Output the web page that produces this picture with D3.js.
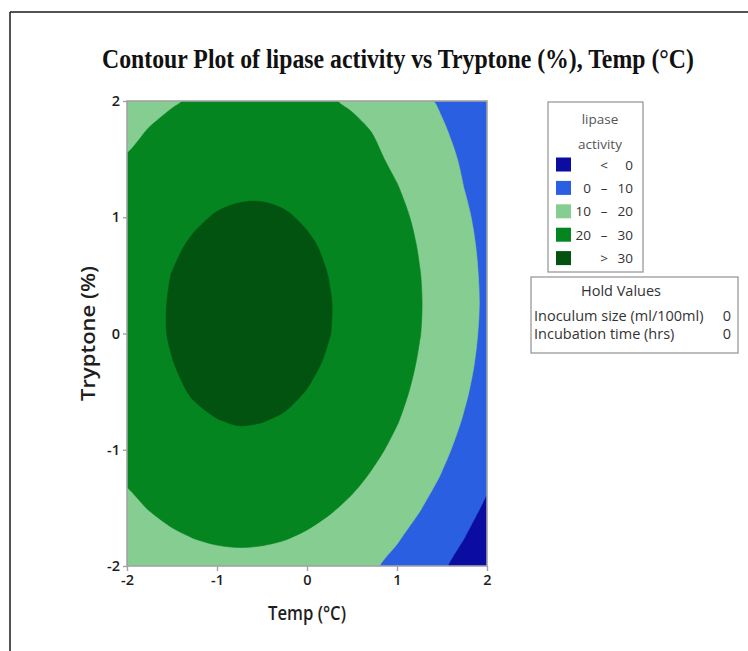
<!DOCTYPE html>
<html>
<head>
<meta charset="utf-8">
<script src="https://cdn.jsdelivr.net/npm/d3@7"></script>
<style>
  html, body { margin: 0; padding: 0; background: #ffffff; }
  svg { display: block; }
</style>
</head>
<body>
<svg id="chart" width="748" height="651"></svg>
<script>
// ---------------- data ----------------
const tempValues = [-2, -1.75, -1.5, -1.25, -1, -0.75, -0.5, -0.25, 0, 0.25, 0.5, 0.75, 1, 1.25, 1.5, 1.75, 2];
const tryptoneValues = [-2, -1.75, -1.5, -1.25, -1, -0.75, -0.5, -0.25, 0, 0.25, 0.5, 0.75, 1, 1.25, 1.5, 1.75, 2];
// lipase activity; one row per Tryptone level (from -2 up to 2), one column per Temp level
const lipaseActivity = [
  [12.4, 14.3, 15.9, 17.0, 17.7, 17.9, 17.7, 17.0, 16.0, 14.4, 12.5, 10.6, 7.9, 4.6, 1.0, -3.0, -7.4],
  [15.5, 17.5, 19.1, 20.2, 20.9, 21.2, 21.0, 20.4, 19.3, 17.8, 15.8, 13.5, 10.7, 7.6, 3.9, 0.1, -4.4],
  [18.3, 20.3, 21.9, 23.1, 23.8, 24.0, 23.9, 23.3, 22.2, 20.7, 18.8, 16.5, 13.7, 10.4, 6.8, 3.0, -1.3],
  [20.7, 22.7, 24.3, 25.5, 26.2, 26.5, 26.4, 25.8, 24.7, 23.3, 21.4, 19.0, 16.3, 13.1, 9.4, 5.4, 1.5],
  [22.7, 24.7, 26.4, 27.5, 28.3, 28.6, 28.5, 27.9, 26.9, 25.4, 23.5, 21.2, 18.5, 15.3, 11.6, 7.6, 3.1],
  [24.3, 26.3, 28.0, 29.2, 29.9, 30.3, 30.1, 29.6, 28.6, 27.2, 25.3, 23.0, 20.3, 17.1, 13.5, 9.4, 4.9],
  [25.4, 27.5, 29.2, 30.4, 31.2, 31.5, 31.4, 30.9, 29.9, 28.5, 26.7, 24.4, 21.7, 18.5, 14.9, 10.9, 6.4],
  [26.2, 28.3, 29.9, 31.2, 32.0, 32.4, 32.3, 31.8, 30.9, 29.5, 27.6, 25.4, 22.7, 19.5, 16.0, 12.0, 7.5],
  [26.6, 28.7, 30.4, 31.7, 32.5, 32.9, 32.8, 32.3, 31.4, 30.1, 28.2, 26.0, 23.3, 20.2, 16.6, 12.6, 8.2],
  [26.6, 28.7, 30.4, 31.7, 32.5, 32.9, 32.9, 32.4, 31.5, 30.2, 28.4, 26.2, 23.5, 20.4, 16.9, 12.9, 8.5],
  [26.2, 28.3, 30.1, 31.3, 32.2, 32.6, 32.6, 32.1, 31.2, 29.9, 28.1, 25.9, 23.3, 20.2, 16.7, 12.7, 8.3],
  [25.3, 27.5, 29.3, 30.6, 31.5, 31.9, 31.9, 31.5, 30.6, 29.3, 27.5, 25.3, 22.7, 19.6, 16.1, 12.2, 7.8],
  [24.1, 26.3, 28.1, 29.4, 30.3, 30.8, 30.8, 30.4, 29.5, 28.2, 26.5, 24.3, 21.7, 18.7, 15.2, 11.3, 6.9],
  [22.5, 24.7, 26.5, 27.8, 28.8, 29.2, 29.3, 28.9, 28.0, 26.8, 25.0, 22.9, 20.3, 17.3, 13.8, 9.9, 5.6],
  [20.5, 22.7, 24.5, 25.9, 26.8, 27.3, 27.4, 27.0, 26.2, 24.9, 23.2, 21.1, 18.6, 15.9, 12.6, 8.8, 4.6],
  [18.0, 20.3, 22.1, 23.5, 24.5, 25.0, 25.1, 24.7, 23.9, 23.0, 21.5, 19.6, 17.1, 14.2, 10.9, 7.1, 2.9],
  [15.2, 17.5, 19.3, 20.8, 21.7, 22.3, 22.3, 22.0, 21.2, 20.5, 19.1, 17.2, 14.9, 12.1, 8.8, 5.2, 1.2]
];
const contourLevels = [0, 10, 20, 30];
const legendLow  = ["", "0", "10", "20", ""];
const legendSym  = ["<", "\u2013", "\u2013", "\u2013", ">"];
const legendHigh = ["0", "10", "20", "30", "30"];
const bandColors = ["#0b0ca2", "#2a5fe2", "#86cd91", "#04851f", "#02530f"];
const xTicks = [-2, -1, 0, 1, 2];
const yTicks = [-2, -1, 0, 1, 2];
const holdFactors = ["Inoculum size (ml/100ml)", "Incubation time (hrs)"];
const holdSettings = [0, 0];
const titleText = "Contour Plot of lipase activity vs Tryptone (%), Temp (\u00B0C)";
const xLabel = "Temp (\u00B0C)";
const yLabel = "Tryptone (%)";

// ---------------- layout ----------------
const svg = d3.select("#chart");
const plot = { left: 127, right: 487, top: 101, bottom: 566 };
const sansFont = "'Open Sans', 'DejaVu Sans', sans-serif";

const xScale = d3.scaleLinear().domain(d3.extent(tempValues)).range([plot.left, plot.right]);
const yScale = d3.scaleLinear().domain(d3.extent(tryptoneValues)).range([plot.bottom, plot.top]);

const nx = tempValues.length, ny = tryptoneValues.length;
// d3.contours grid coordinates: sample i sits at i + 0.5
const gridToTemp = d3.scaleLinear().domain([0.5, nx - 0.5]).range(d3.extent(tempValues));
const gridToTryp = d3.scaleLinear().domain([0.5, ny - 0.5]).range(d3.extent(tryptoneValues));

// fit a text horizontally to a target width (keeps glyph height)
function fitText(sel, tx, ty, width, rotate) {
  const w = sel.node().getComputedTextLength();
  const s = width / w;
  sel.attr("x", 0).attr("y", 0)
    .attr("transform", `translate(${tx},${ty})` + (rotate ? ` rotate(${rotate})` : "") + ` scale(${s},1)`);
}

// outer screenshot frame (top and left edges)
svg.append("line").attr("x1", 10).attr("y1", 12).attr("x2", 748).attr("y2", 12)
  .attr("stroke", "#1a1a1a").attr("stroke-width", 1.5);
svg.append("line").attr("x1", 10).attr("y1", 12).attr("x2", 10).attr("y2", 651)
  .attr("stroke", "#1a1a1a").attr("stroke-width", 1.5);

// title
const title = svg.append("text")
  .style("font-family", "'Liberation Serif', 'Times New Roman', serif")
  .style("font-size", "28px").style("font-weight", "bold").attr("fill", "#111")
  .text(titleText);
fitText(title, 102, 68, 592);

// clip
svg.append("defs").append("clipPath").attr("id", "plotClip")
  .append("rect").attr("x", plot.left).attr("y", plot.top)
  .attr("width", plot.right - plot.left).attr("height", plot.bottom - plot.top);

const gPlot = svg.append("g").attr("clip-path", "url(#plotClip)");
gPlot.append("rect").attr("x", plot.left).attr("y", plot.top)
  .attr("width", plot.right - plot.left).attr("height", plot.bottom - plot.top)
  .attr("fill", bandColors[0]);

const contours = d3.contours().size([nx, ny]).thresholds(contourLevels)(lipaseActivity.flat());
const smoothRing = d3.line().curve(d3.curveCatmullRomClosed.alpha(0.5));
function bandPath(geo) {
  return geo.coordinates.map(poly => poly.map(ring => {
    const pts = ring.slice(0, -1).map(([u, v]) => [xScale(gridToTemp(u)), yScale(gridToTryp(v))]);
    return smoothRing(pts);
  }).join("")).join("");
}
gPlot.selectAll("path.band").data(contours).join("path")
  .attr("class", "band")
  .attr("d", bandPath)
  .attr("fill", (d, i) => bandColors[i + 1])
  .attr("stroke", (d, i) => bandColors[i + 1]).attr("stroke-width", 0.6);

// frame
svg.append("rect").attr("x", plot.left).attr("y", plot.top)
  .attr("width", plot.right - plot.left).attr("height", plot.bottom - plot.top)
  .attr("fill", "none").attr("stroke", "#a3a3a3").attr("stroke-width", 1.6);

// axes
const fmt = d => String(d);
const xAxis = svg.append("g").attr("transform", `translate(0,${plot.bottom})`)
  .call(d3.axisBottom(xScale).tickValues(xTicks).tickFormat(fmt).tickSize(5).tickPadding(4));
const yAxis = svg.append("g").attr("transform", `translate(${plot.left},0)`)
  .call(d3.axisLeft(yScale).tickValues(yTicks).tickFormat(fmt).tickSize(4).tickPadding(3));
[xAxis, yAxis].forEach(ax => {
  ax.select(".domain").remove();
  ax.selectAll(".tick line").attr("stroke", "#a3a3a3").attr("stroke-width", 1.4);
  ax.selectAll(".tick text").attr("fill", "#1e1e1e")
    .style("font-family", sansFont).style("font-size", "14.5px").style("font-weight", "600");
});

// axis labels
const xl = svg.append("text").attr("text-anchor", "middle")
  .style("font-family", sansFont).style("font-size", "19px").style("font-weight", "600")
  .attr("fill", "#1e1e1e").text(xLabel);
fitText(xl, (plot.left + plot.right) / 2, 620, 78);
const yl = svg.append("text").attr("text-anchor", "middle")
  .style("font-family", sansFont).style("font-size", "19px").style("font-weight", "600")
  .attr("fill", "#1e1e1e").text(yLabel);
fitText(yl, 95, (plot.top + plot.bottom) / 2, 135, -90);

// legend box
const lg = svg.append("g");
lg.append("rect").attr("x", 548).attr("y", 102).attr("width", 95).attr("height", 170)
  .attr("fill", "#fff").attr("stroke", "#9a9a9a").attr("stroke-width", 1.3);
lg.append("text").attr("x", 600).attr("y", 124).attr("text-anchor", "middle")
  .style("font-family", sansFont).style("font-size", "13.5px").attr("fill", "#555").text("lipase");
lg.append("text").attr("x", 600).attr("y", 149).attr("text-anchor", "middle")
  .style("font-family", sansFont).style("font-size", "13.5px").attr("fill", "#555").text("activity");
const rowTop = i => 157.5 + i * 23.4;
lg.selectAll("rect.sw").data(bandColors).join("rect").attr("class", "sw")
  .attr("x", 556).attr("y", (d, i) => rowTop(i)).attr("width", 15).attr("height", 14)
  .attr("fill", d => d);
const legendText = (arr, x, anchor) => lg.selectAll(null).data(arr).join("text")
  .attr("x", x).attr("y", (d, i) => rowTop(i) + 12).attr("text-anchor", anchor)
  .style("font-family", sansFont).style("font-size", "13.5px").attr("fill", "#333")
  .text(d => d);
legendText(legendLow, 591, "end");
legendText(legendSym, 604, "middle");
legendText(legendHigh, 633, "end");

// hold values box
const hg = svg.append("g");
hg.append("rect").attr("x", 531).attr("y", 277).attr("width", 207).attr("height", 76)
  .attr("fill", "#fff").attr("stroke", "#9a9a9a").attr("stroke-width", 1.3);
hg.append("text").attr("x", 621).attr("y", 296).attr("text-anchor", "middle")
  .style("font-family", sansFont).style("font-size", "14.5px").attr("fill", "#333").text("Hold Values");
hg.selectAll("text.hf").data(holdFactors).join("text").attr("class", "hf")
  .attr("x", 534).attr("y", (d, i) => 321 + i * 18)
  .style("font-family", sansFont).style("font-size", "14.5px").attr("fill", "#333")
  .text(d => d);
hg.selectAll("text.hv").data(holdSettings).join("text").attr("class", "hv")
  .attr("x", 731).attr("y", (d, i) => 321 + i * 18).attr("text-anchor", "end")
  .style("font-family", sansFont).style("font-size", "14.5px").attr("fill", "#333")
  .text(d => d);
</script>
</body>
</html>
